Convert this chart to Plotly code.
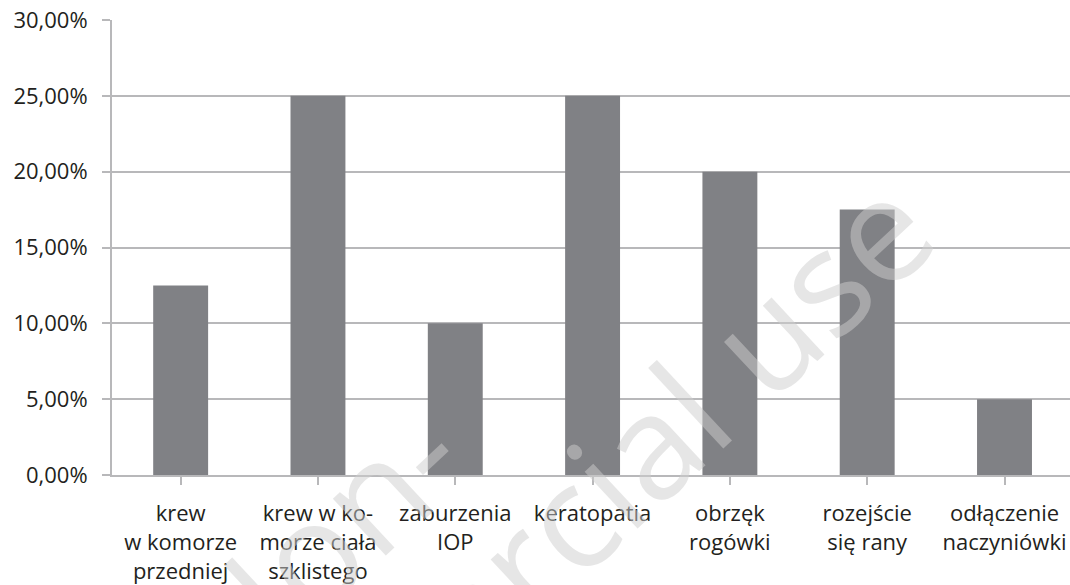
import plotly.graph_objects as go

# Complication frequencies after surgery
categories = [
    "krew<br>w komorze<br>przedniej",
    "krew w ko-<br>morze ciała<br>szklistego",
    "zaburzenia<br>IOP",
    "keratopatia",
    "obrzęk<br>rogówki",
    "rozejście<br>się rany",
    "odłączenie<br>naczyniówki",
]
shares = [0.125, 0.25, 0.10, 0.25, 0.20, 0.175, 0.05]

y_ticks = [0.0, 0.05, 0.10, 0.15, 0.20, 0.25, 0.30]

FONT = "Open Sans"
TEXT = "#231f20"
GRID = "#b8b8ba"
BAR = "#808185"

W, H = 1070, 585
L, R, T, B = 112, 0, 20, 106

fig = go.Figure(
    go.Bar(
        x=list(range(len(categories))),
        y=shares,
        width=0.4,
        marker=dict(color=BAR, line=dict(width=0)),
    )
)

fig.update_layout(
    width=W,
    height=H,
    margin=dict(l=L, r=R, t=T, b=B, pad=0),
    paper_bgcolor="white",
    plot_bgcolor="white",
    separators=", ",
    showlegend=False,
    font=dict(family=FONT, size=22, color=TEXT),
)

fig.update_xaxes(
    tickmode="array",
    tickvals=list(range(len(categories))),
    ticktext=categories,
    range=[-0.5, 6.477],
    tickson="boundaries",
    ticks="outside",
    ticklen=8,
    tickwidth=2,
    tickcolor=GRID,
    showline=True,
    linecolor=GRID,
    linewidth=2,
    showgrid=False,
    zeroline=False,
    ticklabelstandoff=10,
    tickfont=dict(family=FONT, size=22, color=TEXT),
)

fig.update_yaxes(
    range=[0, 0.30],
    tickmode="array",
    tickvals=y_ticks,
    tickformat=".2%",
    ticks="outside",
    ticklen=8,
    tickwidth=2,
    tickcolor=GRID,
    showline=True,
    linecolor=GRID,
    linewidth=2,
    showgrid=True,
    gridcolor=GRID,
    gridwidth=2,
    zeroline=False,
    ticklabelstandoff=10,
    tickfont=dict(family=FONT, size=22, color=TEXT),
)

# Faint diagonal watermark laid over the chart
plot_w = W - L - R
plot_h = H - T - B


def paper_xy(px, py):
    return (px - L) / plot_w, (H - B - py) / plot_h


WM_COLOR = "rgba(205,205,205,0.5)"
for text, (px, py) in [("Non-", (316, 548)), ("commercial use", (515, 570))]:
    xp, yp = paper_xy(px, py)
    fig.add_annotation(
        text=text,
        xref="paper",
        yref="paper",
        x=xp,
        y=yp,
        xanchor="center",
        yanchor="middle",
        showarrow=False,
        textangle=-43,
        font=dict(family=FONT, size=145, color=WM_COLOR),
    )

fig.write_html("out.html")
